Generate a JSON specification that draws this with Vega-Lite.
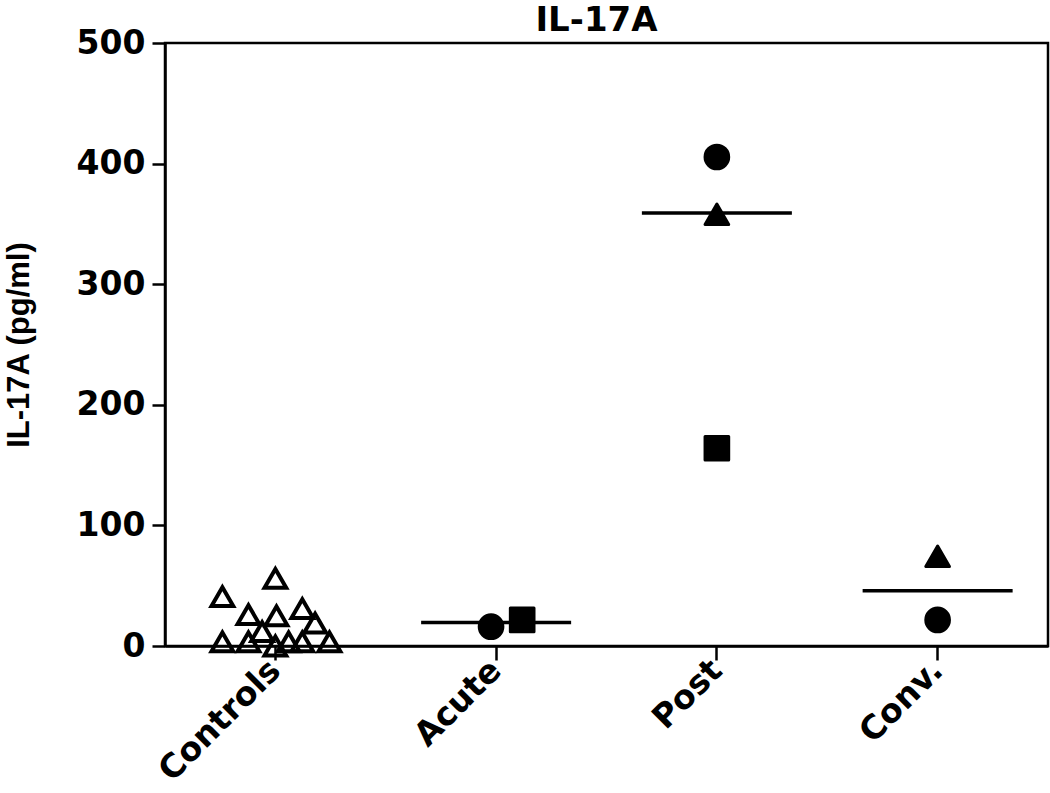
{
  "$schema": "https://vega.github.io/schema/vega-lite/v6.json",
  "autosize": "none",
  "width": 883,
  "height": 603,
  "padding": {"left": 165, "top": 43, "right": 2, "bottom": 147},
  "background": "white",
  "title": {"text": "IL-17A", "font": "DejaVu Sans", "fontWeight": "bold", "fontSize": 34, "color": "black", "offset": 8, "dy": 19, "dx": -10, "anchor": "middle", "frame": "group"},
  "config": {
    "view": {"stroke": "black", "strokeWidth": 2.5},
    "axis": {"domainColor": "black", "domainWidth": 2.5, "tickColor": "black", "tickWidth": 2.5, "grid": false, "labelColor": "black", "titleColor": "black"}
  },
  "datasets": {
    "points": [
      {"group": "Controls", "subject": "Control", "dx": 0.0, "value": 56},
      {"group": "Controls", "subject": "Control", "dx": -0.24, "value": 41},
      {"group": "Controls", "subject": "Control", "dx": -0.122, "value": 26},
      {"group": "Controls", "subject": "Control", "dx": 0.005, "value": 25},
      {"group": "Controls", "subject": "Control", "dx": 0.122, "value": 31},
      {"group": "Controls", "subject": "Control", "dx": 0.18, "value": 19},
      {"group": "Controls", "subject": "Control", "dx": -0.06, "value": 12},
      {"group": "Controls", "subject": "Control", "dx": -0.24, "value": 3.5},
      {"group": "Controls", "subject": "Control", "dx": -0.122, "value": 3.5},
      {"group": "Controls", "subject": "Control", "dx": 0.0, "value": 0},
      {"group": "Controls", "subject": "Control", "dx": 0.06, "value": 3.5},
      {"group": "Controls", "subject": "Control", "dx": 0.122, "value": 3.5},
      {"group": "Controls", "subject": "Control", "dx": 0.245, "value": 3.5},
      {"group": "Acute", "subject": "Patient 1", "dx": -0.023, "value": 16},
      {"group": "Acute", "subject": "Patient 2", "dx": 0.118, "value": 21.6},
      {"group": "Post", "subject": "Patient 1", "dx": 0.0, "value": 405.5},
      {"group": "Post", "subject": "Patient 3", "dx": 0.0, "value": 358},
      {"group": "Post", "subject": "Patient 2", "dx": 0.0, "value": 164},
      {"group": "Conv.", "subject": "Patient 3", "dx": 0.0, "value": 74.4},
      {"group": "Conv.", "subject": "Patient 1", "dx": 0.0, "value": 21.6}
    ],
    "medians": [
      {"group": "Acute", "median": 19.4},
      {"group": "Post", "median": 359},
      {"group": "Conv.", "median": 45.9}
    ]
  },
  "encoding": {
    "x": {
      "field": "group", "type": "nominal",
      "sort": ["Controls", "Acute", "Post", "Conv."],
      "scale": {"domain": ["Controls", "Acute", "Post", "Conv."], "paddingInner": 0, "paddingOuter": 0},
      "axis": {"title": null, "labelAngle": -45, "labelFont": "DejaVu Sans", "labelFontWeight": "bold", "labelFontSize": 33, "tickSize": 14, "labelPadding": 5, "labelAlign": "right", "labelBaseline": "middle"}
    },
    "y": {
      "type": "quantitative",
      "scale": {"domain": [0, 500], "nice": false, "zero": true},
      "axis": {"title": "IL-17A (pg/ml)", "values": [0, 100, 200, 300, 400, 500], "tickSize": 13, "labelPadding": 7, "labelFont": "DejaVu Sans", "labelFontWeight": "bold", "labelFontSize": 33, "titleFont": "Liberation Sans", "titleFontWeight": "bold", "titleFontSize": 31, "titlePadding": 41}
    }
  },
  "layer": [
    {
      "data": {"name": "medians"},
      "mark": {"type": "tick", "color": "black", "size": 150, "thickness": 3.5, "orient": "horizontal", "opacity": 1},
      "encoding": {"y": {"field": "median", "type": "quantitative"}}
    },
    {
      "data": {"name": "points"},
      "transform": [{"filter": "datum.subject === 'Control'"}],
      "mark": {"type": "point", "shape": "triangle-up", "filled": false, "stroke": "black", "strokeWidth": 4, "size": 470, "strokeJoin": "miter", "opacity": 1},
      "encoding": {
        "xOffset": {"field": "dx", "type": "quantitative", "scale": {"domain": [-0.5, 0.5]}},
        "y": {"field": "value", "type": "quantitative"}
      }
    },
    {
      "data": {"name": "points"},
      "transform": [{"filter": "datum.subject !== 'Control'"}],
      "mark": {"type": "point", "filled": true, "color": "black", "stroke": "black", "strokeWidth": 3, "strokeJoin": "round", "opacity": 1},
      "encoding": {
        "xOffset": {"field": "dx", "type": "quantitative", "scale": {"domain": [-0.5, 0.5]}},
        "y": {"field": "value", "type": "quantitative"},
        "shape": {"field": "subject", "type": "nominal", "scale": {"domain": ["Patient 1", "Patient 2", "Patient 3"], "range": ["circle", "square", "triangle-up"]}, "legend": null},
        "size": {"field": "subject", "type": "nominal", "scale": {"domain": ["Patient 1", "Patient 2", "Patient 3"], "range": [560, 560, 1350]}, "legend": null}
      }
    }
  ]
}
